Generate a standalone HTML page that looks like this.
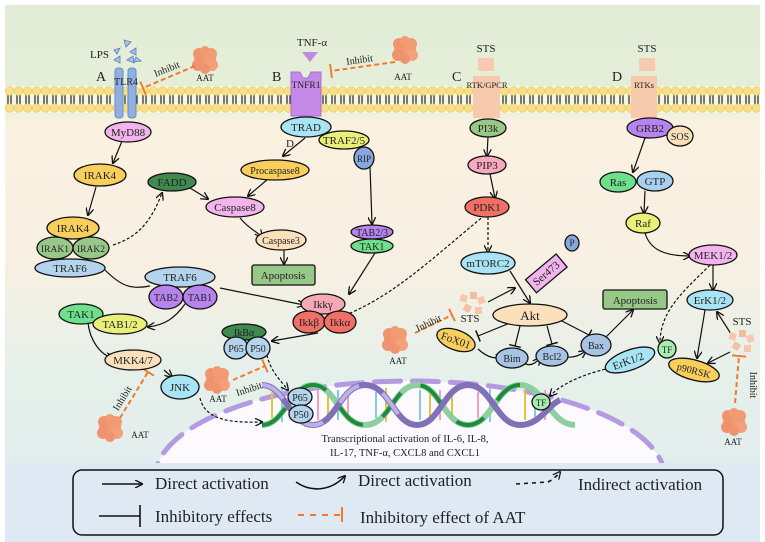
<!DOCTYPE html>
<html><head><meta charset="utf-8"><style>
html,body{margin:0;padding:0;background:#fff;width:765px;height:542px;overflow:hidden;}
svg{display:block;}
text{font-family:"Liberation Serif",serif;fill:#222;}
</style></head><body>
<svg width="765" height="542" viewBox="0 0 765 542" xmlns="http://www.w3.org/2000/svg">
<defs>
<linearGradient id="bg" x1="0" y1="0" x2="0" y2="1">
<stop offset="0" stop-color="#e1ecd6"/>
<stop offset="0.22" stop-color="#e6efd9"/>
<stop offset="0.26" stop-color="#faf1e1"/>
<stop offset="0.55" stop-color="#f8f0e2"/>
<stop offset="0.8" stop-color="#e6f0ea"/>
<stop offset="1" stop-color="#e2eeee"/>
</linearGradient>
<pattern id="mem" x="5" y="0" width="9" height="542" patternUnits="userSpaceOnUse">
<line x1="3" y1="94" x2="3" y2="105" stroke="#222" stroke-width="1.2"/>
<line x1="6" y1="94" x2="6" y2="105" stroke="#222" stroke-width="1.2"/>
<circle cx="4.5" cy="91" r="4.3" fill="#f7df86" stroke="#e8c860" stroke-width="0.6"/>
<circle cx="4.5" cy="108" r="4.3" fill="#f7df86" stroke="#e8c860" stroke-width="0.6"/>
</pattern>
<marker id="ah" markerWidth="8" markerHeight="8" refX="7" refY="4" orient="auto" markerUnits="userSpaceOnUse"><path d="M0,0 L8,4 L0,8" fill="none" stroke="#111" stroke-width="1.3"/></marker>
<marker id="tb" markerWidth="2" markerHeight="12" refX="1" refY="6" orient="auto" markerUnits="userSpaceOnUse"><line x1="1" y1="0" x2="1" y2="12" stroke="#111" stroke-width="1.5"/></marker>
<marker id="to" markerWidth="2" markerHeight="14" refX="1" refY="7" orient="auto" markerUnits="userSpaceOnUse"><line x1="1" y1="0" x2="1" y2="14" stroke="#f07a2a" stroke-width="2"/></marker>
<g id="aat"><circle r="11" fill="#f29a72"/><circle cx="-6" cy="-6" r="6" fill="#f09470"/><circle cx="6" cy="-6" r="6" fill="#f29a72"/><circle cx="-7" cy="5" r="6" fill="#ef9270"/><circle cx="7" cy="5" r="6" fill="#f4a07a"/><circle cx="0" cy="-9" r="5" fill="#f29a72"/><circle cx="0" cy="9" r="5" fill="#ef946f"/></g>
<g id="cubes"><rect x="-12" y="-10" width="7" height="7" fill="#f6c7ae" transform="rotate(15 -8 -6)"/><rect x="-2" y="-13" width="7" height="7" fill="#f3bda3"/><rect x="6" y="-8" width="7" height="7" fill="#f6c7ae" transform="rotate(-20 9 -4)"/><rect x="-8" y="0" width="7" height="7" fill="#f4c1a6" transform="rotate(30 -4 3)"/><rect x="3" y="2" width="7" height="7" fill="#f6c7ae"/></g>
</defs>
<rect x="0" y="0" width="765" height="542" fill="#fff"/>
<rect x="5" y="5" width="755" height="458" fill="url(#bg)"/>
<rect x="5" y="463" width="755" height="79" fill="#dfe9f3"/>
<rect x="5" y="86" width="755" height="27" fill="#f4f6e2"/>
<rect x="5" y="85" width="755" height="28" fill="url(#mem)"/>

<ellipse cx="410" cy="478" rx="255" ry="97" fill="#fcfaff"/>
<ellipse cx="410" cy="478" rx="255" ry="97" fill="none" stroke="#b49ae0" stroke-width="5" stroke-dasharray="26 12" stroke-linecap="round"/>
<rect x="5" y="463" width="755" height="79" fill="#dfe9f3"/>
<g>
<g stroke-width="2">
<line x1="272" y1="392" x2="272" y2="418" stroke="#e8c23a"/><line x1="282" y1="388" x2="282" y2="422" stroke="#8ac8e8"/><line x1="318" y1="390" x2="318" y2="420" stroke="#f0a0c0"/><line x1="328" y1="388" x2="328" y2="422" stroke="#e8c23a"/><line x1="338" y1="390" x2="338" y2="420" stroke="#8ac8e8"/><line x1="348" y1="392" x2="348" y2="418" stroke="#f0a0c0"/>
<line x1="376" y1="392" x2="376" y2="418" stroke="#8ac8e8"/><line x1="386" y1="388" x2="386" y2="422" stroke="#e8c23a"/><line x1="420" y1="390" x2="420" y2="420" stroke="#8ac8e8"/><line x1="430" y1="388" x2="430" y2="422" stroke="#e8c23a"/><line x1="440" y1="390" x2="440" y2="420" stroke="#f0a0c0"/><line x1="452" y1="392" x2="452" y2="418" stroke="#e8c23a"/>
<line x1="478" y1="392" x2="478" y2="418" stroke="#f0a0c0"/><line x1="490" y1="388" x2="490" y2="422" stroke="#8ac8e8"/><line x1="525" y1="390" x2="525" y2="420" stroke="#e8c23a"/><line x1="535" y1="388" x2="535" y2="422" stroke="#8ac8e8"/><line x1="545" y1="390" x2="545" y2="420" stroke="#f0a0c0"/>
</g>
<path d="M262,425 C285,425 290,385 313,385 C336,385 340,425 365,425 C390,425 394,385 417,385 C440,385 444,425 468,425 C492,425 496,385 520,385 C544,385 550,425 575,425" fill="none" stroke="#8fcf9f" stroke-width="6"/>
<path d="M262,425 C285,425 290,385 313,385 C336,385 340,425 365,425 C390,425 394,385 417,385 C440,385 444,425 468,425 C492,425 496,385 520,385" fill="none" stroke="#1e8a3c" stroke-width="4" stroke-dasharray="30 22"/>
<path d="M262,385 C285,385 290,425 313,425 C336,425 340,385 365,385 C390,385 394,425 417,425 C440,425 444,385 468,385 C492,385 496,425 520,425 C540,425 548,405 560,400" fill="none" stroke="#7f70b8" stroke-width="6"/>
<path d="M262,385 C285,385 290,425 313,425 C336,425 340,385 365,385 C390,385 394,425 417,425" fill="none" stroke="#c0b2e8" stroke-width="4" stroke-dasharray="26 26"/>
</g>
<text x="405" y="442" font-size="10.5" text-anchor="middle">Transcriptional activation of IL-6, IL-8,</text>
<text x="405" y="456" font-size="10.5" text-anchor="middle">IL-17, TNF-α, CXCL8 and CXCL1</text>

<rect x="115" y="68" width="8" height="50" rx="3" fill="#8fb0e0" stroke="#6a8cc8"/>
<rect x="128" y="68" width="8" height="50" rx="3" fill="#8fb0e0" stroke="#6a8cc8"/>
<text x="126" y="85" font-size="10" text-anchor="middle">TLR4</text>
<text x="96" y="81" font-size="14">A</text>
<text x="90" y="58" font-size="11">LPS</text>
<g fill="#a8c4ec" stroke="#5a7ab8" stroke-width="0.8">
<path d="M114,50 l6,-2 -3,6z"/><path d="M124,40 l7,2 -5,5z"/><path d="M130,52 l6,-4 0,7z"/><path d="M114,60 l6,-4 0,7z"/><path d="M127,60 l6,-4 1,7z"/><path d="M136,57 l5,4 -7,1z"/>
</g>
<use href="#aat" x="205" y="60"/>
<text x="205" y="81" font-size="9" text-anchor="middle">AAT</text>
<line x1="195" y1="66" x2="143" y2="88" stroke="#f07a2a" stroke-width="2" stroke-dasharray="5 3" marker-end="url(#to)"/>
<text x="168" y="72" font-size="10" transform="rotate(-22 168 72)" text-anchor="middle">Inhibit</text>

<text x="272" y="81" font-size="14">B</text>
<text x="312" y="46" font-size="11" text-anchor="middle">TNF-α</text>
<path d="M302,52 L318,52 L310,62z" fill="#c08ae0"/>
<path d="M291,72 L300,72 L303,78 L308,78 L311,72 L321,72 L321,116 L291,116z" fill="#c58ae8" stroke="#a870d8"/>
<text x="306" y="88" font-size="9.5" text-anchor="middle">TNFR1</text>
<line x1="395" y1="62" x2="331" y2="71" stroke="#f07a2a" stroke-width="2" stroke-dasharray="5 3" marker-end="url(#to)"/>
<text x="360" y="63" font-size="10" transform="rotate(-8 360 63)" text-anchor="middle">Inhibit</text>
<use href="#aat" x="405" y="50"/>
<text x="403" y="80" font-size="9" text-anchor="middle">AAT</text>

<text x="452" y="81" font-size="14">C</text>
<text x="486" y="52" font-size="11" text-anchor="middle">STS</text>
<rect x="478" y="58" width="16" height="13" fill="#f7c9ad"/>
<rect x="473" y="76" width="27" height="42" fill="#f7c9ad"/>
<text x="487" y="88" font-size="8.5" text-anchor="middle">RTK/GPCR</text>
<text x="612" y="81" font-size="14">D</text>
<text x="647" y="52" font-size="11" text-anchor="middle">STS</text>
<rect x="639" y="58" width="16" height="13" fill="#f7c9ad"/>
<rect x="631" y="76" width="26" height="42" fill="#f7c9ad"/>
<text x="644" y="88" font-size="8.5" text-anchor="middle">RTKs</text>

<g fill="none" stroke="#111" stroke-width="1.2">
<line x1="122" y1="141" x2="113" y2="163" marker-end="url(#ah)"/>
<line x1="96" y1="187" x2="88" y2="215" marker-end="url(#ah)"/>
<path d="M113,245 C135,238 150,225 162,193" stroke-dasharray="3 2" marker-end="url(#ah)"/>
<line x1="305" y1="138" x2="283" y2="156" marker-end="url(#ah)"/>
<line x1="268" y1="179" x2="248" y2="196" marker-end="url(#ah)"/>
<line x1="190" y1="188" x2="208" y2="199" marker-end="url(#ah)"/>
<path d="M240,218 C250,230 258,232 262,237" marker-end="url(#ah)"/>
<line x1="284" y1="240" x2="284" y2="264" marker-end="url(#ah)"/>
<line x1="370" y1="166" x2="372" y2="224" marker-end="url(#ah)"/>
<line x1="375" y1="253" x2="349" y2="294" marker-end="url(#ah)"/>
<path d="M105,270 C120,285 130,290 150,286"/>
<line x1="220" y1="288" x2="304" y2="305" marker-end="url(#ah)"/>
<path d="M185,304 C175,318 165,325 148,327" marker-end="url(#ah)"/>
<path d="M88,323 C90,340 100,355 113,358" marker-end="url(#ah)"/>
<line x1="164" y1="370" x2="172" y2="377" marker-end="url(#ah)"/>
<line x1="318" y1="333" x2="272" y2="341" marker-end="url(#ah)"/>
<path d="M267,355 C270,370 280,380 288,390" stroke-dasharray="3 2" marker-end="url(#ah)"/>
<path d="M200,398 C205,420 230,423 262,422" stroke-dasharray="3 2" marker-end="url(#ah)"/>
<path d="M485,215 C430,260 390,300 335,319" stroke-dasharray="3 2" marker-end="url(#ah)"/>
<line x1="488" y1="217" x2="488" y2="252" stroke-dasharray="3 2" marker-end="url(#ah)"/>
<line x1="488" y1="137" x2="487" y2="156" marker-end="url(#ah)"/>
<line x1="490" y1="174" x2="495" y2="198" marker-end="url(#ah)"/>
<line x1="510" y1="271" x2="530" y2="303" marker-end="url(#ah)"/>
<line x1="488" y1="302" x2="515" y2="288" marker-end="url(#ah)"/>
<line x1="510" y1="323" x2="478" y2="336" marker-end="url(#tb)"/>
<line x1="520" y1="326" x2="515" y2="346" marker-end="url(#tb)"/>
<line x1="547" y1="326" x2="552" y2="344" marker-end="url(#tb)"/>
<line x1="560" y1="320" x2="589" y2="335" marker-end="url(#tb)"/>
<path d="M478,349 C490,360 497,358 503,357" marker-end="url(#ah)"/>
<path d="M522,362 C530,368 536,363 540,358" marker-end="url(#ah)"/>
<path d="M565,357 C575,358 580,355 586,351" marker-end="url(#ah)"/>
<line x1="605" y1="338" x2="633" y2="310" marker-end="url(#ah)"/>
<line x1="645" y1="138" x2="633" y2="172" marker-end="url(#ah)"/>
<line x1="645" y1="191" x2="644" y2="213" marker-end="url(#ah)"/>
<path d="M645,233 C650,250 665,256 690,256" marker-end="url(#ah)"/>
<line x1="713" y1="265" x2="713" y2="290" marker-end="url(#ah)"/>
<path d="M710,265 C685,290 660,310 660,343" stroke-dasharray="3 2" marker-end="url(#ah)"/>
<line x1="705" y1="310" x2="697" y2="358" marker-end="url(#ah)"/>
<line x1="733" y1="337" x2="717" y2="312" marker-end="url(#ah)"/>
<line x1="730" y1="352" x2="708" y2="363" marker-end="url(#ah)"/>
<path d="M610,368 C580,375 560,385 550,396" stroke-dasharray="3 2" marker-end="url(#ah)"/>
</g>
<use href="#aat" x="110" y="428"/>
<text x="140" y="438" font-size="9" text-anchor="middle">AAT</text>
<line x1="120" y1="418" x2="148" y2="372" stroke="#f07a2a" stroke-width="2" stroke-dasharray="5 3" marker-end="url(#to)"/>
<text x="125" y="400" font-size="10" transform="rotate(-58 125 400)" text-anchor="middle">Inhibit</text>
<use href="#aat" x="217" y="380"/>
<text x="218" y="402" font-size="9" text-anchor="middle">AAT</text>
<line x1="233" y1="380" x2="265" y2="366" stroke="#f07a2a" stroke-width="2" stroke-dasharray="5 3" marker-end="url(#to)"/>
<text x="250" y="392" font-size="10" transform="rotate(-18 250 392)" text-anchor="middle">Inhibit</text>
<use href="#aat" x="395" y="340"/>
<text x="398" y="364" font-size="9" text-anchor="middle">AAT</text>
<line x1="415" y1="333" x2="452" y2="315" stroke="#f07a2a" stroke-width="2" stroke-dasharray="5 3" marker-end="url(#to)"/>
<text x="430" y="326" font-size="10" transform="rotate(-25 430 326)" text-anchor="middle">Inhibit</text>
<use href="#cubes" x="472" y="305"/>
<text x="470" y="322" font-size="11" text-anchor="middle">STS</text>
<use href="#cubes" x="741" y="343"/>
<text x="742" y="325" font-size="11" text-anchor="middle">STS</text>
<use href="#aat" x="734" y="422"/>
<text x="733" y="445" font-size="9" text-anchor="middle">AAT</text>
<line x1="735" y1="403" x2="739" y2="356" stroke="#f07a2a" stroke-width="2" stroke-dasharray="5 3" marker-end="url(#to)"/>
<text x="750" y="385" font-size="10" transform="rotate(90 750 385)" text-anchor="middle">Inhibit</text>

<g stroke="#111" stroke-width="1.3" font-size="11">
<ellipse cx="128" cy="132" rx="23" ry="10" fill="#f2b4ec"/>
<ellipse cx="100" cy="175" rx="26" ry="11" fill="#f8cf5c"/>
<ellipse cx="172" cy="182" rx="24" ry="9" fill="#3f8a4e"/>
<ellipse cx="73" cy="228" rx="26" ry="11" fill="#f8cf5c"/>
<ellipse cx="55" cy="248" rx="18" ry="11" fill="#98c888"/>
<ellipse cx="91" cy="248" rx="18" ry="11" fill="#98c888"/>
<ellipse cx="70" cy="268" rx="35" ry="9" fill="#b4d4ee"/>
<ellipse cx="306" cy="127" rx="25" ry="10" fill="#a8e4f4"/>
<ellipse cx="344" cy="140" rx="25" ry="9" fill="#eaef7a"/>
<ellipse cx="364" cy="158" rx="10" ry="11" fill="#86a8de"/>
<ellipse cx="275" cy="170" rx="34" ry="10" fill="#f8cf5c"/>
<ellipse cx="235" cy="207" rx="29" ry="10" fill="#f2b4ec"/>
<ellipse cx="281" cy="240" rx="25" ry="10" fill="#fbe0bc"/>
<rect x="252" y="265" width="63" height="20" rx="2" fill="#98c888"/>
<ellipse cx="372" cy="232" rx="21" ry="7" fill="#b684ec"/>
<ellipse cx="372" cy="246" rx="21" ry="7" fill="#6ee08c"/>
<ellipse cx="180" cy="277" rx="35" ry="10" fill="#b4d4ee"/>
<ellipse cx="166" cy="297" rx="17" ry="12" fill="#b684ec"/>
<ellipse cx="200" cy="297" rx="17" ry="12" fill="#b684ec"/>
<ellipse cx="81" cy="314" rx="22" ry="10" fill="#6ee08c"/>
<ellipse cx="120" cy="324" rx="27" ry="10" fill="#eaef7a"/>
<ellipse cx="323" cy="304" rx="22" ry="10" fill="#f4a8b8"/>
<ellipse cx="309" cy="322" rx="16" ry="11" fill="#f07066"/>
<ellipse cx="340" cy="322" rx="16" ry="11" fill="#f07066"/>
<ellipse cx="244" cy="332" rx="22" ry="8" fill="#3f8a4e"/>
<ellipse cx="236" cy="348" rx="12" ry="11" fill="#b4d4ee"/>
<ellipse cx="258" cy="348" rx="12" ry="11" fill="#b4d4ee"/>
<ellipse cx="133" cy="360" rx="28" ry="10" fill="#fbe0bc"/>
<ellipse cx="180" cy="387" rx="19" ry="12" fill="#a8e4f4"/>
<ellipse cx="300" cy="397" rx="12" ry="9" fill="#b4d4ee"/>
<ellipse cx="301" cy="414" rx="12" ry="9" fill="#b4d4ee"/>
<ellipse cx="541" cy="402" rx="9" ry="8" fill="#a8ecb0"/>
<ellipse cx="488" cy="128" rx="18" ry="9" fill="#98c888"/>
<ellipse cx="487" cy="165" rx="19" ry="9" fill="#f8a8c0"/>
<ellipse cx="487" cy="207" rx="22" ry="10" fill="#f07066"/>
<ellipse cx="488" cy="263" rx="27" ry="11" fill="#a8e4f4"/>
<rect x="526" y="265" width="40" height="17" fill="#f2b4ec" transform="rotate(-40 546 273)"/>
<ellipse cx="572" cy="243" rx="7" ry="8" fill="#86a8de"/>
<ellipse cx="530" cy="315" rx="37" ry="11" fill="#fbe0bc"/>
<rect x="603" y="290" width="64" height="19" rx="2" fill="#98c888"/>
<ellipse cx="456" cy="340" rx="20" ry="10" fill="#f8cf5c" transform="rotate(20 456 340)"/>
<ellipse cx="512" cy="358" rx="16" ry="10" fill="#a8c4e4"/>
<ellipse cx="552" cy="356" rx="16" ry="10" fill="#a8c4e4"/>
<ellipse cx="596" cy="345" rx="15" ry="11" fill="#a8c4e4"/>
<ellipse cx="650" cy="128" rx="23" ry="10" fill="#b684ec"/>
<ellipse cx="680" cy="136" rx="13" ry="10" fill="#fbe0bc"/>
<ellipse cx="618" cy="182" rx="18" ry="10" fill="#6ee08c"/>
<ellipse cx="655" cy="181" rx="18" ry="10" fill="#a8d0f0"/>
<ellipse cx="643" cy="223" rx="17" ry="10" fill="#eaef7a"/>
<ellipse cx="713" cy="255" rx="24" ry="10" fill="#f2b4ec"/>
<ellipse cx="710" cy="300" rx="23" ry="10" fill="#a8e4f4"/>
<ellipse cx="630" cy="360" rx="26" ry="10" fill="#a8e4f4" transform="rotate(-20 630 360)"/>
<ellipse cx="667" cy="349" rx="9" ry="9" fill="#a8ecb0"/>
<ellipse cx="694" cy="370" rx="26" ry="10" fill="#f8cf5c" transform="rotate(15 694 370)"/>
</g>
<g font-size="11" text-anchor="middle">
<text x="128" y="136">MyD88</text>
<text x="100" y="179">IRAK4</text>
<text x="172" y="186">FADD</text>
<text x="73" y="232">IRAK4</text>
<text x="55" y="252" font-size="9.5">IRAK1</text>
<text x="91" y="252" font-size="9.5">IRAK2</text>
<text x="70" y="272">TRAF6</text>
<text x="306" y="131">TRAD</text>
<text x="290" y="147">D</text>
<text x="344" y="144">TRAF2/5</text>
<text x="364" y="162" font-size="9">RIP</text>
<text x="275" y="174" font-size="10">Procaspase8</text>
<text x="235" y="211">Caspase8</text>
<text x="281" y="244" font-size="10">Caspase3</text>
<text x="283" y="279">Apoptosis</text>
<text x="372" y="236" font-size="10">TAB2/3</text>
<text x="372" y="250" font-size="10">TAK1</text>
<text x="180" y="281">TRAF6</text>
<text x="166" y="301" font-size="10">TAB2</text>
<text x="200" y="301" font-size="10">TAB1</text>
<text x="81" y="318">TAK1</text>
<text x="120" y="328">TAB1/2</text>
<text x="323" y="308">Ikkγ</text>
<text x="309" y="326">Ikkβ</text>
<text x="340" y="326">Ikkα</text>
<text x="244" y="336" font-size="10">IkBα</text>
<text x="236" y="352" font-size="10">P65</text>
<text x="258" y="352" font-size="10">P50</text>
<text x="133" y="364">MKK4/7</text>
<text x="180" y="391">JNK</text>
<text x="300" y="401" font-size="10">P65</text>
<text x="301" y="418" font-size="10">P50</text>
<text x="541" y="406" font-size="9">TF</text>
<text x="488" y="132">PI3k</text>
<text x="487" y="169">PIP3</text>
<text x="487" y="211">PDK1</text>
<text x="488" y="267">mTORC2</text>
<text x="546" y="277" transform="rotate(-40 546 273)">Ser473</text>
<text x="572" y="246" font-size="9">P</text>
<text x="530" y="320" font-size="13">Akt</text>
<text x="635" y="304">Apoptosis</text>
<text x="456" y="344" transform="rotate(20 456 340)">FoX01</text>
<text x="512" y="362" font-size="10">Bim</text>
<text x="552" y="360" font-size="10">Bcl2</text>
<text x="596" y="349" font-size="10">Bax</text>
<text x="650" y="132">GRB2</text>
<text x="680" y="140" font-size="10">SOS</text>
<text x="618" y="186">Ras</text>
<text x="655" y="185">GTP</text>
<text x="643" y="227">Raf</text>
<text x="713" y="259">MEK1/2</text>
<text x="710" y="304">ErK1/2</text>
<text x="628" y="364" transform="rotate(-20 630 360)">ErK1/2</text>
<text x="667" y="353" font-size="9">TF</text>
<text x="694" y="374" font-size="10" transform="rotate(15 694 370)">p90RSK</text>
</g>

<rect x="73" y="470" width="650" height="65" rx="9" fill="none" stroke="#111" stroke-width="1.5"/>
<g fill="none" stroke="#111" stroke-width="1.6">
<line x1="102" y1="484" x2="142" y2="484" marker-end="url(#ah)"/>
<path d="M296,482 C310,492 330,492 345,476" marker-end="url(#ah)"/>
<path d="M516,484 L548,482 C552,480 556,477 560,472" stroke-dasharray="4 4" marker-end="url(#ah)"/>
<line x1="99" y1="516" x2="140" y2="516"/>
<line x1="140" y1="505" x2="140" y2="527"/>
</g>
<line x1="298" y1="515" x2="340" y2="515" stroke="#f07a2a" stroke-width="2" stroke-dasharray="6 6"/>
<line x1="342" y1="507" x2="342" y2="522" stroke="#f07a2a" stroke-width="2"/>
<g font-size="17">
<text x="155" y="489">Direct activation</text>
<text x="358" y="486">Direct activation</text>
<text x="578" y="490">Indirect activation</text>
<text x="155" y="522">Inhibitory effects</text>
<text x="360" y="523">Inhibitory effect of AAT</text>
</g>
</svg>
</body></html>
